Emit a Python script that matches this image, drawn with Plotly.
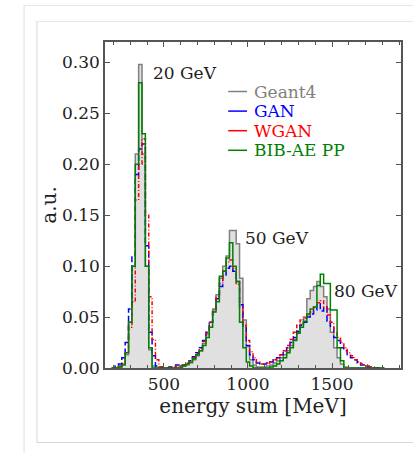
import plotly.graph_objs as go

# histogram binning (MeV): 20 MeV bins, first bin starts at 190
bin_start = 190
bin_width = 20

# bin contents, one value per 20 MeV bin
geant4 = [
    0, 0, 0.001, 0.004, 0.013, 0.045, 0.100, 0.210, 0.298, 0.210,        # 190-
    0.100, 0.018, 0.002, 0, 0, 0, 0, 0, 0, 0,                            # 390-
    0.001, 0.002, 0.003, 0.005, 0.008, 0.012, 0.017, 0.024, 0.033, 0.045,  # 590-
    0.058, 0.072, 0.088, 0.100, 0.110, 0.135, 0.135, 0.122, 0.088, 0.047,  # 790-
    0.021, 0.008, 0.003, 0.001, 0.001, 0.001, 0.002, 0.003, 0.005, 0.007,  # 990-
    0.010, 0.013, 0.017, 0.022, 0.028, 0.035, 0.043, 0.050, 0.068, 0.076,  # 1190-
    0.080, 0.085, 0.080, 0.070, 0.058, 0.035, 0.020, 0.010, 0.004, 0.001,  # 1390-
    0, 0, 0, 0, 0, 0, 0, 0, 0, 0, 0,                                     # 1590-
]
gan = [
    0, 0.002, 0.004, 0.010, 0.025, 0.058, 0.110, 0.190, 0.215, 0.220,
    0.120, 0.035, 0.012, 0.002, 0.001, 0, 0, 0.001, 0.001, 0.003,
    0.002, 0.003, 0.005, 0.007, 0.011, 0.015, 0.020, 0.027, 0.035, 0.045,
    0.055, 0.068, 0.080, 0.090, 0.098, 0.100, 0.095, 0.085, 0.062, 0.040,
    0.022, 0.013, 0.008, 0.005, 0.004, 0.004, 0.005, 0.006, 0.008, 0.010,
    0.013, 0.017, 0.020, 0.025, 0.030, 0.036, 0.042, 0.045, 0.050, 0.053,
    0.057, 0.063, 0.056, 0.060, 0.046, 0.040, 0.030, 0.027, 0.020, 0.017,
    0.013, 0.010, 0.008, 0.005, 0.003, 0.002, 0.001, 0, 0, 0, 0,
]
wgan = [
    0, 0.001, 0.002, 0.005, 0.015, 0.040, 0.065, 0.165, 0.200, 0.225,
    0.150, 0.070, 0.028, 0.008, 0.001, 0, 0, 0.001, 0.001, 0.002,
    0.002, 0.003, 0.005, 0.007, 0.010, 0.014, 0.019, 0.026, 0.034, 0.045,
    0.057, 0.070, 0.083, 0.095, 0.104, 0.106, 0.098, 0.082, 0.060, 0.042,
    0.027, 0.016, 0.010, 0.006, 0.004, 0.004, 0.005, 0.006, 0.008, 0.010,
    0.013, 0.017, 0.022, 0.028, 0.035, 0.042, 0.047, 0.049, 0.052, 0.055,
    0.060, 0.064, 0.066, 0.060, 0.052, 0.045, 0.035, 0.030, 0.025, 0.020,
    0.015, 0.012, 0.008, 0.006, 0.004, 0.003, 0.002, 0.001, 0, 0, 0,
]
bibae_pp = [
    0, 0, 0.001, 0.003, 0.015, 0.045, 0.100, 0.200, 0.280, 0.230,
    0.100, 0.020, 0, 0, 0, 0, 0, 0, 0, 0,
    0, 0.002, 0.004, 0.006, 0.009, 0.013, 0.017, 0.022, 0.030, 0.040,
    0.055, 0.065, 0.090, 0.095, 0.108, 0.123, 0.100, 0.085, 0.045, 0.020,
    0.006, 0.002, 0, 0, 0, 0, 0, 0.001, 0.002, 0.004,
    0.007, 0.010, 0.015, 0.020, 0.027, 0.034, 0.040, 0.046, 0.053, 0.058,
    0.060, 0.081, 0.092, 0.083, 0.083, 0.057, 0.057, 0.020, 0.007, 0,
    0, 0, 0, 0, 0, 0, 0, 0, 0, 0, 0,
]

series_names = ["Geant4", "GAN", "WGAN", "BIB-AE PP"]
series_colors = ["#808080", "blue", "red", "green"]

peak_labels = ["20 GeV", "50 GeV", "80 GeV"]
peak_label_x = [425, 970, 1500]
peak_label_y = [0.290, 0.128, 0.076]

edges = [bin_start + bin_width * i for i in range(len(geant4) + 1)]

font = "DejaVu Serif"
axis_col = "#555555"

fig = go.Figure()

# Geant4: grey filled area + outline
fig.add_trace(go.Scatter(x=edges, y=geant4 + [geant4[-1]], mode="lines",
                         line=dict(shape="hv", width=0), fill="tozeroy",
                         fillcolor="#e0e0e0", showlegend=False, hoverinfo="skip"))
dashes = ["solid", "6px,3px", "4px,2px,1px,2px", "solid"]
for name, vals, col, dash in zip(series_names, [geant4, gan, wgan, bibae_pp],
                                 series_colors, dashes):
    fig.add_trace(go.Scatter(x=edges, y=vals + [vals[-1]], mode="lines",
                             line=dict(shape="hv", color=col, width=1.5, dash=dash),
                             name=name, showlegend=False))

for txt, xx, yy in zip(peak_labels, peak_label_x, peak_label_y):
    fig.add_annotation(x=xx, y=yy, text=txt, showarrow=False,
                       xanchor="left", yanchor="middle",
                       font=dict(family=font, size=17, color="#222222"))

# pixel -> paper helpers
W, H = 415, 453
L, R, T, B = 105, 12, 42, 85
pw, ph = W - L - R, H - T - B

def px(x):
    return (x - L) / pw

def py(y):
    return (H - B - y) / ph

# legend drawn by hand (coloured labels, short line samples)
for k, (name, col) in enumerate(zip(series_names, series_colors)):
    yy = 91.5 + 19.6 * k
    fig.add_shape(type="line", xref="paper", yref="paper",
                  x0=px(229), x1=px(248), y0=py(yy), y1=py(yy),
                  line=dict(color=col, width=1.5))
    fig.add_annotation(xref="paper", yref="paper", x=px(253), y=py(yy),
                       text=name, showarrow=False, xanchor="left", yanchor="middle",
                       font=dict(family=font, size=17, color=col))

# page frame lines around the figure
frame = [
    (23.5, 5, 23.5, 453, "#dddddd"),
    (23.5, 5.5, 415, 5.5, "#e6e6e6"),
    (36.5, 21, 36.5, 443, "#d6d6d6"),
    (36.5, 21.5, 415, 21.5, "#e6e6e6"),
    (36.5, 442.5, 415, 442.5, "#d6d6d6"),
]
for x0, y0, x1, y1, c in frame:
    fig.add_shape(type="line", xref="paper", yref="paper",
                  x0=px(x0), y0=py(y0), x1=px(x1), y1=py(y1),
                  line=dict(color=c, width=1))

fig.update_layout(
    width=W, height=H,
    margin=dict(l=L, r=R, t=T, b=B),
    paper_bgcolor="white", plot_bgcolor="white",
    font=dict(family=font, size=17, color="#222222"),
    showlegend=False,
)

fig.update_xaxes(
    range=[150, 1910], tickvals=[500, 1000, 1500],
    showline=True, linecolor=axis_col, linewidth=1.5, mirror="allticks",
    ticks="inside", ticklen=5, tickcolor=axis_col,
    minor=dict(dtick=100, tick0=0, ticks="inside", ticklen=3, tickcolor=axis_col),
    showgrid=False, zeroline=False,
    title=dict(text="energy sum [MeV]", standoff=1),
)
fig.update_yaxes(
    range=[0, 0.32], dtick=0.05, tickformat=".2f",
    showline=True, linecolor=axis_col, linewidth=1.5, mirror="allticks",
    ticks="inside", ticklen=5, tickcolor=axis_col,
    showgrid=False, zeroline=False,
    title=dict(text="a.u.", standoff=0),
)

# page body margin off so the figure sits at the window origin
fig.write_html("out.html", config={"displayModeBar": False},
               post_script="document.body.style.margin='0';")
